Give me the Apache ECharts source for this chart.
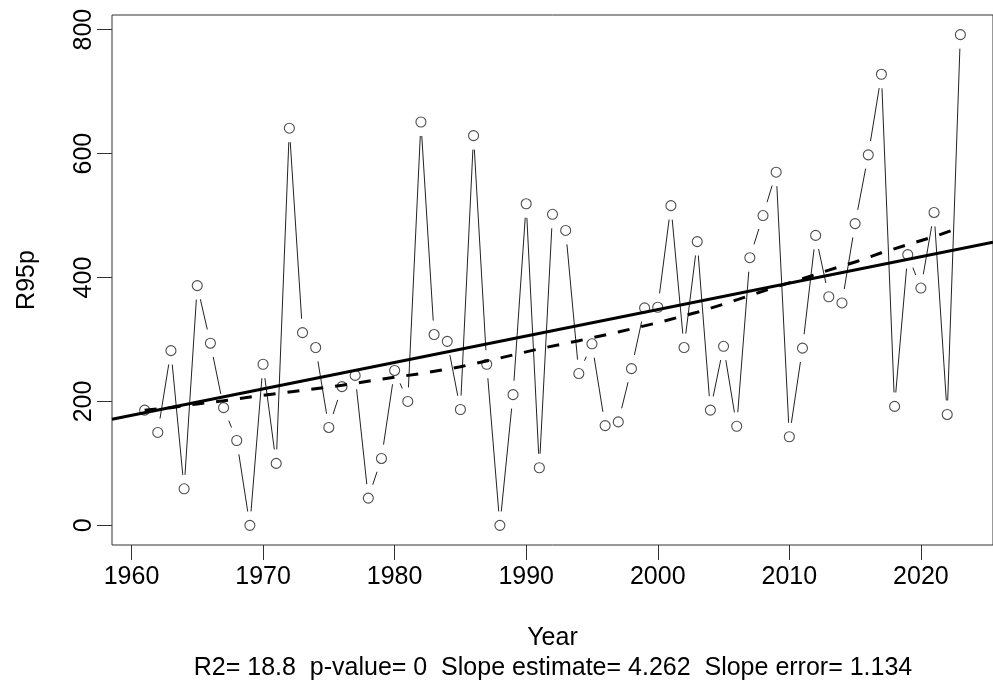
<!DOCTYPE html>
<html>
<head>
<meta charset="utf-8">
<script src="https://cdn.jsdelivr.net/npm/echarts@6/dist/echarts.min.js"></script>
<style>
  html, body { margin: 0; padding: 0; background: #fff; }
  #chart { width: 993px; height: 681px; }
</style>
</head>
<body>
<div id="chart"></div>
<script>
// ---- data ----
const years = [1961,1962,1963,1964,1965,1966,1967,1968,1969,1970,
               1971,1972,1973,1974,1975,1976,1977,1978,1979,1980,
               1981,1982,1983,1984,1985,1986,1987,1988,1989,1990,
               1991,1992,1993,1994,1995,1996,1997,1998,1999,2000,
               2001,2002,2003,2004,2005,2006,2007,2008,2009,2010,
               2011,2012,2013,2014,2015,2016,2017,2018,2019,2020,
               2021,2022,2023];
const r95p = [186,150,282,59,387,294,190,137,0,260,
              100,641,311,287,158,224,242,44,108,250,
              200,651,308,297,187,629,260,0,211,519,
              93,502,476,245,293,161,167,253,351,352,
              516,287,458,186,289,160,432,500,570,143,
              286,468,369,359,487,598,728,192,437,383,
              505,179,792];
// smoothed (dashed) curve
const smoothYears = [1961,1963,1965,1967,1970,1973,1976,1979,1982,1985,1988,1991,1994,1997,2000,2003,2005,2007,2009,2011,2013,2015,2017,2019,2021,2023];
const smoothVals  = [186,190,196,201,210,218,226,236,245,256,270,285,298,312,327,344,357,371,385,398,412,425,440,453,466,481];
const xTicks = [1960,1970,1980,1990,2000,2010,2020];
const yTicks = [0,200,400,600,800];
const slope = 4.262;
const statsText = 'R2= 18.8  p-value= 0  Slope estimate= 4.262  Slope error= 1.134';

// ---- derived ----
const n = years.length;
const meanX = years.reduce((a,b)=>a+b,0)/n;
const meanY = r95p.reduce((a,b)=>a+b,0)/n;
const intercept = meanY - slope*meanX;
const xLo = Math.min(...years), xHi = Math.max(...years);
const yLo = Math.min(...r95p), yHi = Math.max(...r95p);
const xMin = xLo - 0.04*(xHi-xLo), xMax = xHi + 0.04*(xHi-xLo);
const yMin = yLo - 0.04*(yHi-yLo), yMax = yHi + 0.04*(yHi-yLo);

const points = years.map((y,i)=>[y, r95p[i]]);
const segs = [];
for (let i=0;i<n-1;i++) segs.push([years[i], r95p[i], years[i+1], r95p[i+1]]);
const fitLine = [[xMin, intercept+slope*xMin],[xMax, intercept+slope*xMax]];
const smooth = smoothYears.map((y,i)=>[y, smoothVals[i]]);

const FONT = '"Liberation Sans", Arial, sans-serif';
const GAP = 14;

const chart = echarts.init(document.getElementById('chart'), null, {renderer:'canvas'});
chart.setOption({
  animation: false,
  backgroundColor: '#fff',
  grid: { left: 112, top: 15, right: -10, bottom: 136, show: true, borderColor: '#333', borderWidth: 1, backgroundColor: 'transparent' },
  xAxis: {
    type: 'value', min: xMin, max: xMax,
    name: 'Year', nameLocation: 'middle', nameGap: 81,
    nameTextStyle: { fontSize: 25, color: '#000', fontFamily: FONT },
    axisLine: { show: false, onZero: false },
    splitLine: { show: false },
    axisTick: { show: true, inside: false, length: 15, customValues: xTicks, lineStyle: { color: '#333', width: 1 } },
    axisLabel: { customValues: xTicks, margin: 20, fontSize: 25, color: '#000', fontFamily: FONT, formatter: v => String(v) }
  },
  yAxis: {
    type: 'value', min: yMin, max: yMax,
    name: 'R95p', nameLocation: 'middle', nameGap: 72, nameRotate: 90,
    nameTextStyle: { fontSize: 25, color: '#000', fontFamily: FONT },
    axisLine: { show: false, onZero: false },
    splitLine: { show: false },
    axisTick: { show: true, inside: false, length: 15, customValues: yTicks, lineStyle: { color: '#333', width: 1 } },
    axisLabel: { customValues: yTicks, margin: 15, rotate: 90, fontSize: 25, color: '#000', fontFamily: FONT, formatter: v => String(v) }
  },
  graphic: [{
    type: 'text', x: 553, y: 668,
    style: { text: statsText, fill: '#000', font: '25px ' + FONT, textAlign: 'center', textVerticalAlign: 'middle' }
  }],
  series: [
    {
      type: 'custom', z: 2, silent: true,
      data: segs,
      encode: { x: [0,2], y: [1,3] },
      renderItem: function (params, api) {
        const p0 = api.coord([api.value(0), api.value(1)]);
        const p1 = api.coord([api.value(2), api.value(3)]);
        const dx = p1[0]-p0[0], dy = p1[1]-p0[1];
        const d = Math.sqrt(dx*dx+dy*dy);
        if (d <= 2*GAP) return null;
        const ux = dx/d, uy = dy/d;
        return {
          type: 'line',
          shape: { x1: p0[0]+ux*GAP, y1: p0[1]+uy*GAP, x2: p1[0]-ux*GAP, y2: p1[1]-uy*GAP },
          style: { stroke: '#222', lineWidth: 1 }
        };
      }
    },
    {
      type: 'scatter', z: 3, data: points, symbol: 'circle', symbolSize: 10,
      itemStyle: { color: 'rgba(0,0,0,0)', borderColor: '#222', borderWidth: 1.1 }
    },
    {
      type: 'line', z: 4, data: fitLine, showSymbol: false, symbol: 'none',
      lineStyle: { color: '#000', width: 3, type: 'solid' }
    },
    {
      type: 'line', z: 4, data: smooth, showSymbol: false, symbol: 'none',
      lineStyle: { color: '#000', width: 3, type: [12, 12] }
    }
  ]
});
</script>
</body>
</html>
